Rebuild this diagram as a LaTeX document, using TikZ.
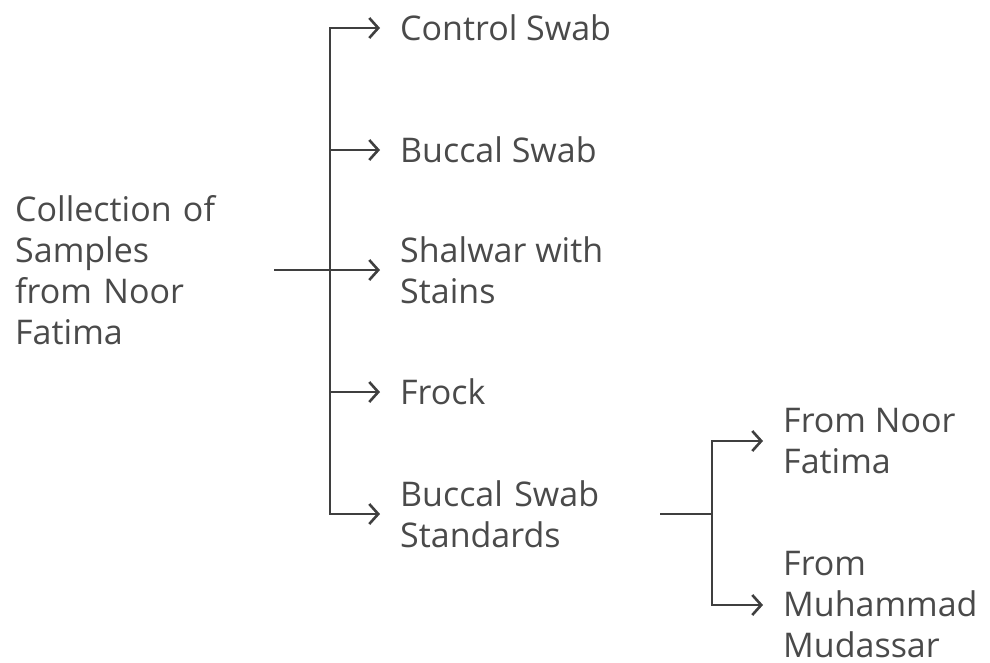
\documentclass[tikz,border=0pt]{standalone}
\usepackage{fontspec}
\setmainfont{Open Sans}
\usetikzlibrary{arrows.meta}
\definecolor{ink}{HTML}{3F3F3F}
\definecolor{txt}{HTML}{4A4A4A}
\tikzset{
  item/.style={anchor=west,inner sep=0pt,align=left,text=txt,font=\fontsize{34}{41}\selectfont},
  link/.style={draw=ink,line width=2.8pt},
  arr/.style={link,-{Straight Barb[length=9pt,width=20pt,line width=2.6pt]},shorten >=20pt},
}
\begin{document}
\begin{tikzpicture}[x=1pt,y=-1pt]
    \useasboundingbox (0,0) rectangle (990,662);%
    \node[item,text width=259pt] (root) at (15,270) {Collection of\\Samples\\from Noor\\Fatima};%
    \node[item] (control) at (400,28) {Control Swab};%
    \node[item] (buccal) at (400,150) {Buccal Swab};%
    \node[item] (shalwar) at (400,270) {Shalwar with\\Stains};%
    \node[item] (frock) at (400,392) {Frock};%
    \node[item,text width=260pt] (standards) at (400,514) {Buccal Swab\\Standards};%
    \node[item] (noor) at (783,441) {From Noor\\Fatima};%
    \node[item] (mudassar) at (783,605) {From\\Muhammad\\Mudassar};%
    \coordinate (F1) at (330,270);%
    \coordinate (F2) at (712,514);%

    \draw[link] (root.east) to (F1);%
    \draw[arr] (F1) |- (control);%
    \draw[arr] (F1) |- (buccal);%
    \draw[arr] (F1) -- (shalwar);%
    \draw[arr] (F1) |- (frock);%
    \draw[arr] (F1) |- (standards.west);%
    \draw[link] (standards.east) to (F2);%
    \draw[arr] (F2) |- (noor);%
    \draw[arr] (F2) |- (mudassar);%
  \end{tikzpicture}
\end{document}
